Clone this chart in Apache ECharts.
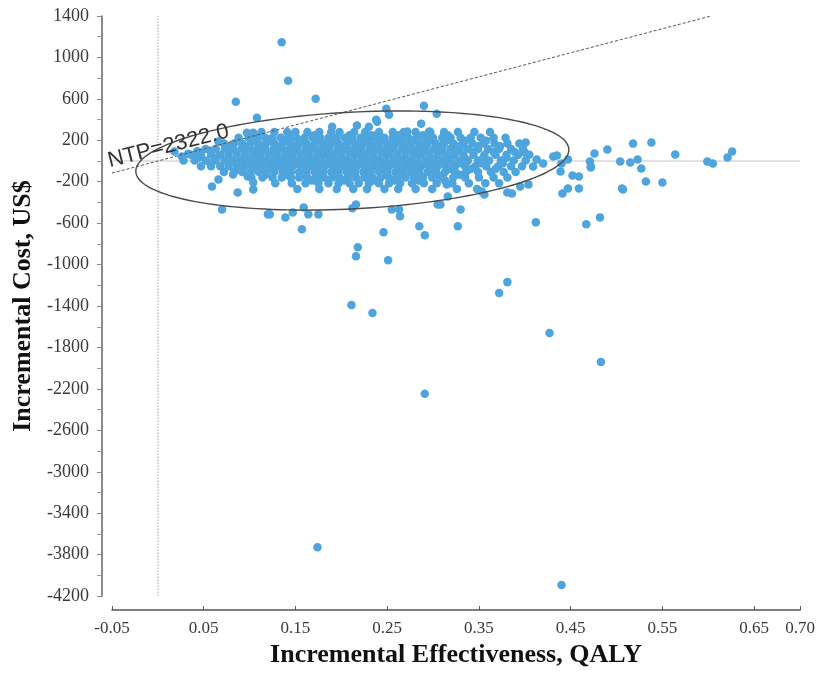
<!DOCTYPE html>
<html>
<head>
<meta charset="utf-8">
<script src="https://cdn.jsdelivr.net/npm/echarts@6/dist/echarts.min.js"></script>
<style>
  html, body { margin: 0; padding: 0; background: #fff; }
  #chart { width: 818px; height: 673px; }
</style>
</head>
<body>
<div id="chart"></div>
<script>
// dense core of the cloud, one row per cost level
const cloudRowY = [280, 225, 170, 115, 60, 5, -50, -105, -160, -215, -270];
const cloudRowX = [
  [0.113, 0.127, 0.141, 0.150, 0.163, 0.176, 0.189, 0.198, 0.214, 0.226, 0.241, 0.256, 0.268, 0.281, 0.297, 0.312, 0.327, 0.345, 0.362],
  [0.088, 0.099, 0.108, 0.117, 0.125, 0.134, 0.143, 0.151, 0.160, 0.169, 0.177, 0.186, 0.195, 0.204, 0.212, 0.221, 0.230, 0.238, 0.247, 0.256, 0.265, 0.273, 0.282, 0.291, 0.300, 0.310, 0.319, 0.330, 0.341, 0.352, 0.366, 0.379],
  [0.072, 0.083, 0.092, 0.101, 0.110, 0.118, 0.127, 0.136, 0.145, 0.154, 0.162, 0.171, 0.180, 0.189, 0.197, 0.206, 0.215, 0.224, 0.232, 0.241, 0.250, 0.259, 0.267, 0.276, 0.285, 0.294, 0.303, 0.312, 0.322, 0.333, 0.343, 0.355, 0.367, 0.381, 0.394],
  [0.052, 0.063, 0.073, 0.082, 0.091, 0.100, 0.108, 0.117, 0.126, 0.135, 0.143, 0.152, 0.161, 0.170, 0.178, 0.187, 0.196, 0.205, 0.213, 0.222, 0.231, 0.240, 0.248, 0.257, 0.266, 0.275, 0.283, 0.292, 0.301, 0.310, 0.319, 0.329, 0.338, 0.349, 0.360, 0.372, 0.385, 0.398],
  [0.036, 0.047, 0.058, 0.068, 0.077, 0.086, 0.095, 0.104, 0.112, 0.121, 0.130, 0.139, 0.147, 0.156, 0.165, 0.174, 0.182, 0.191, 0.200, 0.209, 0.217, 0.226, 0.235, 0.244, 0.252, 0.261, 0.270, 0.279, 0.287, 0.296, 0.305, 0.314, 0.323, 0.333, 0.344, 0.356, 0.368, 0.380, 0.393, 0.405],
  [0.028, 0.040, 0.052, 0.063, 0.073, 0.082, 0.091, 0.099, 0.108, 0.117, 0.126, 0.134, 0.143, 0.152, 0.161, 0.169, 0.178, 0.187, 0.196, 0.204, 0.213, 0.222, 0.231, 0.239, 0.248, 0.257, 0.266, 0.274, 0.283, 0.292, 0.301, 0.310, 0.319, 0.328, 0.338, 0.349, 0.361, 0.374, 0.388, 0.401],
  [0.047, 0.058, 0.068, 0.077, 0.086, 0.095, 0.104, 0.112, 0.121, 0.130, 0.139, 0.147, 0.156, 0.165, 0.174, 0.182, 0.191, 0.200, 0.209, 0.217, 0.226, 0.235, 0.244, 0.252, 0.261, 0.270, 0.279, 0.287, 0.296, 0.305, 0.314, 0.324, 0.335, 0.346, 0.358, 0.371, 0.385, 0.397],
  [0.072, 0.083, 0.092, 0.101, 0.110, 0.118, 0.127, 0.136, 0.145, 0.154, 0.162, 0.171, 0.180, 0.189, 0.197, 0.206, 0.215, 0.224, 0.232, 0.241, 0.250, 0.259, 0.267, 0.276, 0.285, 0.294, 0.303, 0.313, 0.324, 0.336, 0.349, 0.363, 0.377, 0.390],
  [0.102, 0.114, 0.125, 0.135, 0.145, 0.154, 0.163, 0.172, 0.181, 0.190, 0.198, 0.207, 0.216, 0.225, 0.234, 0.243, 0.252, 0.261, 0.270, 0.279, 0.289, 0.299, 0.310, 0.322, 0.335, 0.350, 0.366, 0.381],
  [0.128, 0.146, 0.161, 0.175, 0.186, 0.197, 0.209, 0.219, 0.230, 0.241, 0.252, 0.264, 0.277, 0.290, 0.304, 0.321, 0.339, 0.357, 0.372],
  [0.152, 0.176, 0.195, 0.213, 0.228, 0.247, 0.262, 0.281, 0.299, 0.326, 0.348]
];

// extra points between the rows where the cloud is solid
const fillRowY = [250, 195, 142, 87, 32, -22, -77, -132, -188];
const fillRowX = [
  [0.146, 0.171, 0.209, 0.233, 0.262, 0.289, 0.316],
  [0.104, 0.121, 0.139, 0.156, 0.173, 0.191, 0.208, 0.226, 0.243, 0.261, 0.278, 0.296, 0.314, 0.335, 0.358],
  [0.078, 0.096, 0.114, 0.131, 0.149, 0.166, 0.184, 0.201, 0.219, 0.236, 0.254, 0.271, 0.289, 0.307, 0.327, 0.349, 0.373],
  [0.058, 0.077, 0.095, 0.112, 0.130, 0.147, 0.165, 0.182, 0.200, 0.217, 0.235, 0.252, 0.270, 0.288, 0.306, 0.325, 0.344, 0.366, 0.389],
  [0.044, 0.064, 0.086, 0.104, 0.121, 0.139, 0.156, 0.174, 0.191, 0.209, 0.226, 0.244, 0.261, 0.279, 0.297, 0.315, 0.334, 0.355, 0.380],
  [0.057, 0.079, 0.099, 0.117, 0.134, 0.152, 0.169, 0.187, 0.204, 0.222, 0.239, 0.257, 0.274, 0.292, 0.310, 0.330, 0.352, 0.376],
  [0.088, 0.106, 0.123, 0.141, 0.158, 0.176, 0.193, 0.211, 0.228, 0.246, 0.263, 0.281, 0.299, 0.318, 0.341, 0.368],
  [0.117, 0.140, 0.158, 0.176, 0.194, 0.212, 0.229, 0.247, 0.265, 0.284, 0.305, 0.329],
  [0.168, 0.203, 0.236, 0.258, 0.284, 0.313]
];

// scattered points around the core and the far outliers
const outerPoints = [
  [0.135, 1147], [0.142, 775], [0.085, 572], [0.172, 601], [0.108, 418], [0.249, 505], [0.252, 447],
  [0.238, 399], [0.290, 534], [0.304, 457], [0.217, 342], [0.230, 332], [0.239, 380], [0.190, 332],
  [0.287, 361], [0.272, 284], [0.296, 284], [0.066, 188], [0.097, 274], [0.104, 274], [0.295, 274],
  [0.018, 92], [0.026, 44], [0.033, 70], [0.043, 95],
  [0.157, -659], [0.246, -688], [0.285, -630], [0.291, -717], [0.139, -544], [0.147, -496],
  [0.164, -515], [0.175, -515], [0.159, -448], [0.212, -457], [0.216, -419], [0.264, -534],
  [0.263, -467], [0.255, -467], [0.305, -419], [0.122, -515], [0.218, -832], [0.216, -919],
  [0.251, -957], [0.211, -1390], [0.234, -1467], [0.372, -1275], [0.381, -1169], [0.427, -1660],
  [0.483, -1939], [0.291, -2247], [0.174, -3729], [0.440, -4094],
  [0.059, -245], [0.066, -178], [0.082, -130], [0.087, -303], [0.104, -274], [0.104, -207],
  [0.070, -467], [0.120, -515], [0.098, -149], [0.330, -467], [0.327, -630], [0.412, -592],
  [0.467, -611], [0.482, -544],
  [0.506, -265], [0.441, -313], [0.447, -265], [0.459, -265], [0.472, -53], [0.476, 72],
  [0.490, 111], [0.518, 168], [0.504, -5], [0.515, -14], [0.523, 14], [0.527, -72],
  [0.532, -197], [0.550, -207], [0.507, -274], [0.538, 178], [0.564, 63], [0.452, -140],
  [0.459, -149], [0.439, -101], [0.440, -24], [0.447, 14], [0.435, 53], [0.431, 43],
  [0.401, 178], [0.400, 82], [0.413, 14], [0.420, -24], [0.409, -53], [0.404, -226],
  [0.395, -245], [0.386, -313], [0.381, -303], [0.356, -322], [0.353, -293], [0.315, -226],
  [0.316, -342], [0.308, -419], [0.471, -5], [0.472, -62], [0.599, -5], [0.605, -24],
  [0.621, 34], [0.626, 91]
];

// reference lines at zero effect and zero cost
const zeroEffectLine = [[0, -4200], [0, 1400]];
const zeroCostLine = [[-0.05, 0], [0.70, 0]];

// willingness-to-pay line y = 2322 x, from left edge to top edge
const wtpLine = [[-0.05, -116], [0.603, 1400]];
const wtpLabel = "NTP=2322.0";

// confidence ellipse: centre and two semi-axis vectors (data units)
const ellipseCenter = [0.212, 5];
const ellipseAxisA = [0.236, 109];
const ellipseAxisB = [0.003, -466];

const xTitle = "Incremental Effectiveness, QALY";
const yTitle = "Incremental Cost, US$";

const points = [];
cloudRowY.forEach((y, i) => cloudRowX[i].forEach((x) => points.push([x, y])));
fillRowY.forEach((y, i) => fillRowX[i].forEach((x) => points.push([x, y])));
outerPoints.forEach((p) => points.push(p));

const chart = echarts.init(document.getElementById("chart"), null, { renderer: "canvas" });

const serif = '"Liberation Serif", "Times New Roman", serif';

chart.setOption({
  animation: false,
  grid: { left: 112, right: 18, top: 16, bottom: 75 },
  xAxis: {
    type: "value",
    min: -0.05,
    max: 0.70,
    interval: 0.1,
    offset: 14,
    name: xTitle,
    nameLocation: "middle",
    nameGap: 30,
    nameTextStyle: { fontFamily: serif, fontSize: 26, fontWeight: "bold", color: "#111" },
    axisLine: { show: true, onZero: false, lineStyle: { color: "#555", width: 1.5 } },
    axisTick: { show: true, inside: true, length: 4, lineStyle: { color: "#555" } },
    axisLabel: {
      fontFamily: serif, fontSize: 17, color: "#3a3a3a", margin: 10,
      showMinLabel: true, showMaxLabel: true,
      formatter: (v) => v.toFixed(2)
    },
    splitLine: { show: false }
  },
  yAxis: {
    type: "value",
    min: -4200,
    max: 1400,
    interval: 400,
    offset: 10,
    name: yTitle,
    nameLocation: "middle",
    nameGap: 64,
    nameRotate: 90,
    nameTextStyle: { fontFamily: serif, fontSize: 26, fontWeight: "bold", color: "#111" },
    axisLine: { show: true, onZero: false, lineStyle: { color: "#666", width: 1.5 } },
    axisTick: { show: true, length: 5, lineStyle: { color: "#888" } },
    minorTick: { show: true, splitNumber: 2, length: 5, lineStyle: { color: "#999" } },
    axisLabel: {
      fontFamily: serif, fontSize: 18, color: "#3a3a3a", margin: 13,
      showMinLabel: true, showMaxLabel: true,
      formatter: (v) => String(Math.round(v))
    },
    splitLine: { show: false }
  },
  series: [
    {
      type: "line",
      data: zeroEffectLine,
      showSymbol: false,
      silent: true,
      z: 1,
      lineStyle: { color: "#c4c4c4", type: "dotted", width: 1.5 }
    },
    {
      type: "line",
      data: zeroCostLine,
      showSymbol: false,
      silent: true,
      z: 1,
      lineStyle: { color: "#e2e2e2", type: "solid", width: 2 }
    },
    {
      type: "scatter",
      data: points,
      symbolSize: 8.5,
      itemStyle: { color: "#4ea4dc", opacity: 1 },
      silent: true,
      z: 3
    },
    {
      type: "line",
      data: wtpLine,
      showSymbol: false,
      silent: true,
      z: 4,
      lineStyle: { color: "#555", width: 1, type: [3, 2] }
    },
    {
      type: "custom",
      data: [ellipseCenter],
      silent: true,
      z: 5,
      renderItem: (params, api) => {
        const c = api.coord(ellipseCenter);
        const a = api.coord([ellipseCenter[0] + ellipseAxisA[0], ellipseCenter[1] + ellipseAxisA[1]]);
        const b = api.coord([ellipseCenter[0] + ellipseAxisB[0], ellipseCenter[1] + ellipseAxisB[1]]);
        const pts = [];
        for (let i = 0; i < 160; i++) {
          const t = (i / 160) * Math.PI * 2;
          pts.push([
            c[0] + (a[0] - c[0]) * Math.cos(t) + (b[0] - c[0]) * Math.sin(t),
            c[1] + (a[1] - c[1]) * Math.cos(t) + (b[1] - c[1]) * Math.sin(t)
          ]);
        }
        return {
          type: "polygon",
          shape: { points: pts },
          style: { fill: "none", stroke: "#4a4a4a", lineWidth: 1.4 }
        };
      }
    }
  ],
  graphic: [
    {
      type: "text",
      x: 111,
      y: 172,
      rotation: 0.245,
      z: 10,
      style: {
        text: wtpLabel,
        font: '22px "Liberation Sans", Arial, sans-serif',
        fill: "#333",
        textAlign: "left",
        textVerticalAlign: "bottom"
      }
    }
  ]
});
</script>
</body>
</html>
